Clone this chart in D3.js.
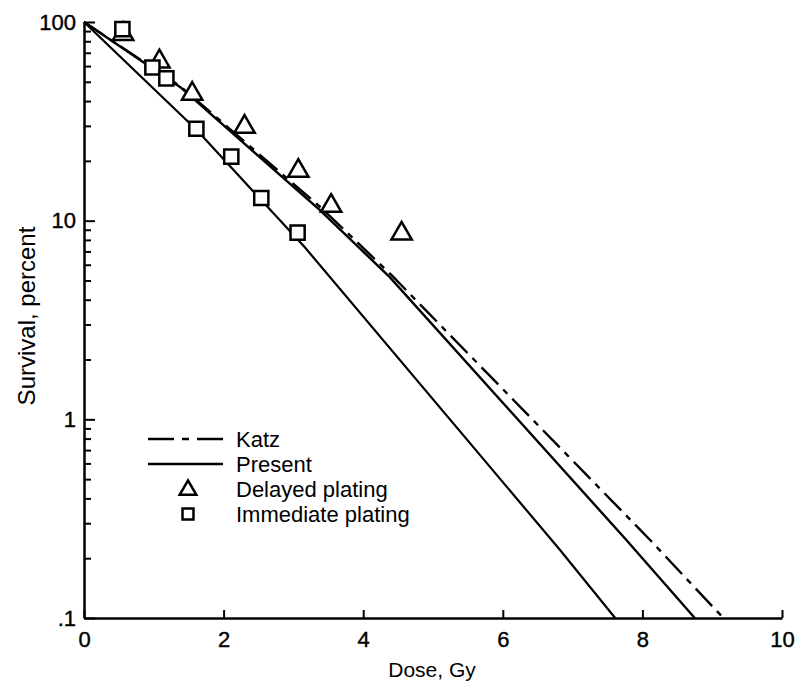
<!DOCTYPE html>
<html lang="en">
<head>
    <meta charset="UTF-8">
    <title>Survival vs Dose</title>
    <style>
        body {
            margin: 0;
            padding: 0;
            background-color: #fff;
        }

        svg text {
            font-family: "Liberation Sans", Arial, sans-serif;
            fill: #000;
        }
    </style>
</head>
<body>

<div id="chart"></div>

<script src="https://d3js.org/d3.v7.min.js"></script>

<script>
    // axis ticks
    const doseTicks = [0, 2, 4, 6, 8, 10];
    const survivalTicks = [0.1, 1, 10, 100];
    const survivalTickLabels = [".1", "1", "10", "100"];

    // measured points
    const delayedDose = [0.56, 1.08, 1.55, 2.30, 3.07, 3.54, 4.55];
    const delayedSurvival = [88, 64, 44, 30, 18, 12, 8.7];
    const immediateDose = [0.55, 0.98, 1.18, 1.61, 2.11, 2.54, 3.06];
    const immediateSurvival = [92, 59, 52, 29, 21, 13, 8.7];

    // model curves
    const presentDelayedDose = [0, 1.38, 3.38, 4.38, 7.77, 8.75];
    const presentDelayedSurvival = [100, 47, 11.3, 5.2, 0.247, 0.1];
    const presentImmediateDose = [0, 1.615, 3.17, 6.82, 7.61];
    const presentImmediateSurvival = [100, 28.6, 7.3, 0.22, 0.1];
    const katzDose = [0, 1.38, 3.40, 4.41, 8.11, 9.16];
    const katzSurvival = [100, 47.5, 11.6, 5.3, 0.247, 0.1];

    const legendLabels = ["Katz", "Present", "Delayed plating", "Immediate plating"];

    const svgWidth = 799;
    const svgHeight = 694;

    const svg = d3.select("#chart")
        .append("svg")
        .attr("width", svgWidth)
        .attr("height", svgHeight);

    const x = d3.scaleLinear()
        .domain([0, 10])
        .range([84, 782]);

    const y = d3.scaleLog()
        .domain([0.1, 100])
        .range([618, 22]);

    // minor ticks on log axis
    const minorTicks = y.ticks().filter(v => survivalTicks.indexOf(v) < 0);

    const yMinor = svg.append("g")
        .attr("transform", "translate(84,0)")
        .call(d3.axisLeft(y).tickValues(minorTicks).tickSizeInner(-7).tickSizeOuter(0).tickFormat(""));
    yMinor.select(".domain").remove();

    const yAxis = svg.append("g")
        .attr("transform", "translate(84,0)")
        .call(d3.axisLeft(y)
            .tickValues(survivalTicks)
            .tickSizeInner(-11)
            .tickSizeOuter(0)
            .tickPadding(8)
            .tickFormat((d, i) => survivalTickLabels[i]));

    const xAxis = svg.append("g")
        .attr("transform", "translate(0,618)")
        .call(d3.axisBottom(x)
            .tickValues(doseTicks)
            .tickSizeInner(-8)
            .tickSizeOuter(0)
            .tickPadding(13)
            .tickFormat(d3.format("d")));

    svg.selectAll(".domain").attr("stroke-width", 2.5).attr("stroke", "#000");
    svg.selectAll(".tick line").attr("stroke-width", 2).attr("stroke", "#000");
    svg.selectAll(".tick text")
        .style("font-size", "22px")
        .style("font-family", "'Liberation Sans', Arial, sans-serif")
        .attr("stroke", "#000")
        .attr("stroke-width", 0.4);

    // axis titles
    svg.append("text")
        .attr("x", 432)
        .attr("y", 677)
        .attr("text-anchor", "middle")
        .style("font-size", "21px")
        .text("Dose, Gy");

    svg.append("text")
        .attr("transform", "translate(35,316) rotate(-90)")
        .attr("text-anchor", "middle")
        .style("font-size", "24px")
        .text("Survival, percent");

    // curves
    const line = d3.line()
        .x(d => x(d[0]))
        .y(d => y(d[1]));

    svg.append("path")
        .datum(katzDose.map((d, i) => [d, katzSurvival[i]]))
        .attr("fill", "none")
        .attr("stroke", "#000")
        .attr("stroke-width", 2.4)
        .attr("stroke-dasharray", "24,7,6,7")
        .attr("d", line);

    svg.append("path")
        .datum(presentDelayedDose.map((d, i) => [d, presentDelayedSurvival[i]]))
        .attr("fill", "none")
        .attr("stroke", "#000")
        .attr("stroke-width", 2.4)
        .attr("d", line);

    svg.append("path")
        .datum(presentImmediateDose.map((d, i) => [d, presentImmediateSurvival[i]]))
        .attr("fill", "none")
        .attr("stroke", "#000")
        .attr("stroke-width", 2.2)
        .attr("d", line);

    // markers
    const triangle = d3.symbol().type(d3.symbolTriangle).size(180);
    const square = d3.symbol().type(d3.symbolSquare).size(200);

    svg.append("g")
        .selectAll("path")
        .data(delayedDose.map((d, i) => [d, delayedSurvival[i]]))
        .join("path")
        .attr("d", triangle)
        .attr("transform", d => "translate(" + x(d[0]) + "," + (y(d[1]) + 1) + ")")
        .attr("fill", "#fff")
        .attr("stroke", "#000")
        .attr("stroke-width", 2.5);

    svg.append("g")
        .selectAll("path")
        .data(immediateDose.map((d, i) => [d, immediateSurvival[i]]))
        .join("path")
        .attr("d", square)
        .attr("transform", d => "translate(" + x(d[0]) + "," + y(d[1]) + ")")
        .attr("fill", "#fff")
        .attr("stroke", "#000")
        .attr("stroke-width", 2.5);

    // legend
    const legend = svg.append("g");
    const legendY = [439, 464, 489, 514];

    legend.append("line")
        .attr("x1", 148).attr("x2", 223)
        .attr("y1", legendY[0]).attr("y2", legendY[0])
        .attr("stroke", "#000")
        .attr("stroke-width", 2.4)
        .attr("stroke-dasharray", "26,8,7,8");

    legend.append("line")
        .attr("x1", 148).attr("x2", 223)
        .attr("y1", legendY[1]).attr("y2", legendY[1])
        .attr("stroke", "#000")
        .attr("stroke-width", 2.4);

    legend.append("path")
        .attr("d", d3.symbol().type(d3.symbolTriangle).size(120))
        .attr("transform", "translate(188," + (legendY[2] + 1) + ")")
        .attr("fill", "#fff")
        .attr("stroke", "#000")
        .attr("stroke-width", 2.5);

    legend.append("path")
        .attr("d", d3.symbol().type(d3.symbolSquare).size(120))
        .attr("transform", "translate(188," + legendY[3] + ")")
        .attr("fill", "#fff")
        .attr("stroke", "#000")
        .attr("stroke-width", 2.5);

    legend.selectAll("text")
        .data(legendLabels)
        .join("text")
        .attr("x", 236)
        .attr("y", (d, i) => legendY[i])
        .attr("dy", "0.35em")
        .style("font-size", "22px")
        .text(d => d);
</script>

</body>
</html>
